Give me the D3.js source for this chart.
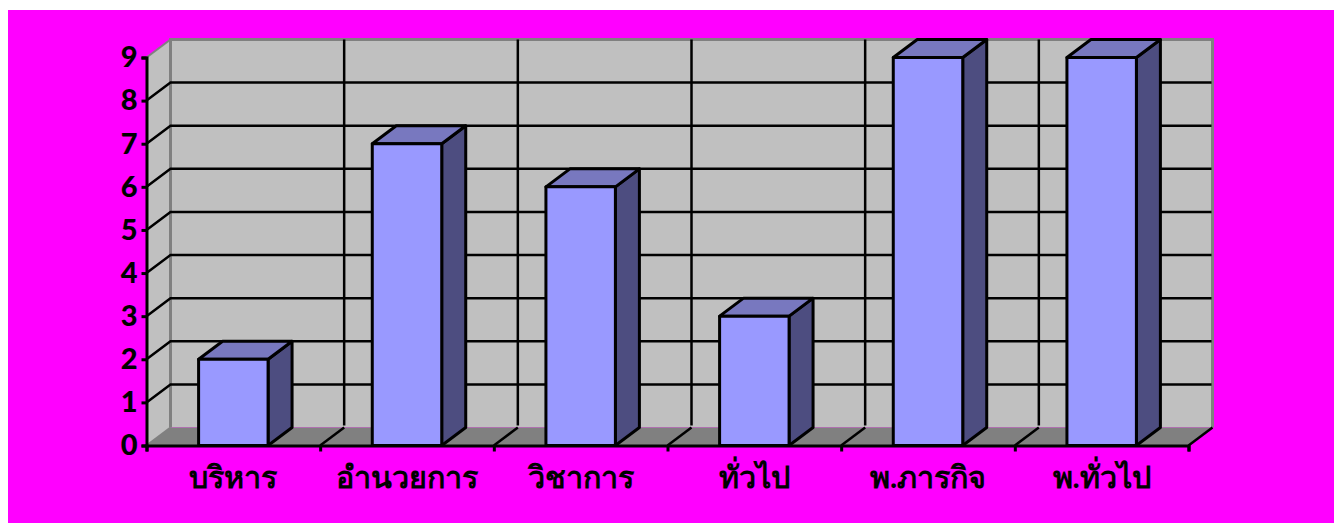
<!DOCTYPE html>
<html>
<head>
<meta charset="utf-8">
<script src="https://d3js.org/d3.v7.min.js"></script>
<style>
html, body { margin: 0; padding: 0; background: #fff; }
svg { display: block; }
</style>
</head>
<body>
<svg id="chart"></svg>
<script>
const categories = ["บริหาร", "อำนวยการ", "วิชาการ", "ทั่วไป", "พ.ภารกิจ", "พ.ทั่วไป"];
const values = [2, 7, 6, 3, 9, 9];
const yTicks = [0, 1, 2, 3, 4, 5, 6, 7, 8, 9];

const width = 1334, height = 523;
const fontFamily = "Lato, 'Noto Sans', 'Open Sans', 'DejaVu Sans', sans-serif";

// depth of the fake 3d box
const dx = 24, dy = -18;

const svg = d3.select("#chart").attr("width", width).attr("height", height);

svg.append("rect").attr("x", 8).attr("y", 10)
    .attr("width", width - 8).attr("height", height - 10).attr("fill", "#ff00ff");

const x = d3.scaleBand().domain(categories).range([146.5, 1188.5])
    .paddingInner(0.6).paddingOuter(0.3);
const y = d3.scaleLinear().domain([0, 9]).range([445.5, 57.5]);

const x0 = x.range()[0], x1 = x.range()[1];
const step = x.step();
const catEdges = categories.map((c, i) => x0 + i * step).concat([x1]);

const poly = pts => pts.map(p => p.join(",")).join(" ");

// side wall, back wall, floor
svg.append("polygon")
    .attr("points", poly([[x0, y(0)], [x0 + dx, y(0) + dy], [x0 + dx, y(9) + dy], [x0, y(9)]]))
    .attr("fill", "#c0c0c0");
svg.append("rect")
    .attr("x", x0 + dx).attr("y", y(9) + dy)
    .attr("width", x1 - x0).attr("height", y(0) - y(9))
    .attr("fill", "#c0c0c0");
svg.append("polygon")
    .attr("points", poly([[x0, y(0)], [x0 + dx, y(0) + dy], [x1 + dx, y(0) + dy], [x1, y(0)]]))
    .attr("fill", "#808080");

// grey wall edges
svg.append("polyline")
    .attr("points", poly([[x0 + dx, y(0) + dy], [x0 + dx, y(9) + dy], [x1 + dx, y(9) + dy], [x1 + dx, y(0) + dy]]))
    .attr("fill", "none").attr("stroke", "#808080").attr("stroke-width", 3);
svg.append("line")
    .attr("x1", x0).attr("y1", y(9)).attr("x2", x0 + dx).attr("y2", y(9) + dy)
    .attr("stroke", "#808080").attr("stroke-width", 2);
svg.append("line")
    .attr("x1", x0).attr("y1", y(0)).attr("x2", x0 + dx).attr("y2", y(0) + dy)
    .attr("stroke", "#808080").attr("stroke-width", 2);

// grid
const grid = svg.append("g").attr("stroke", "#000").attr("stroke-width", 2.5).attr("fill", "none");
yTicks.filter(t => t > 0 && t < 9).forEach(t => {
    grid.append("polyline")
        .attr("points", poly([[x0, y(t)], [x0 + dx, y(t) + dy], [x1 + dx - 1, y(t) + dy]]));
});
catEdges.slice(1, -1).forEach(e => {
    grid.append("line").attr("x1", e + dx).attr("x2", e + dx)
        .attr("y1", y(9) + dy).attr("y2", y(0) + dy - 2);
    grid.append("line").attr("x1", e).attr("x2", e + dx)
        .attr("y1", y(0)).attr("y2", y(0) + dy);
});
svg.append("line")
    .attr("x1", x1 + dx).attr("y1", y(0) + dy).attr("x2", x1).attr("y2", y(0))
    .attr("stroke", "#000").attr("stroke-width", 2.5);

// bars
const bars = svg.append("g").selectAll("g")
    .data(categories.map((c, i) => ({ c, v: values[i] })))
    .join("g")
    .attr("stroke", "#000").attr("stroke-width", 3).attr("stroke-linejoin", "round");

const bw = x.bandwidth();
bars.append("polygon")
    .attr("fill", "#4d4d80")
    .attr("points", d => {
        const r = x(d.c) + bw;
        return poly([[r, y(0)], [r + dx, y(0) + dy], [r + dx, y(d.v) + dy], [r, y(d.v)]]);
    });
bars.append("polygon")
    .attr("fill", "#7878bf")
    .attr("points", d => {
        const l = x(d.c), r = l + bw;
        return poly([[l, y(d.v)], [l + dx, y(d.v) + dy], [r + dx, y(d.v) + dy], [r, y(d.v)]]);
    });
bars.append("rect")
    .attr("fill", "#9999ff")
    .attr("x", d => x(d.c)).attr("y", d => y(d.v))
    .attr("width", bw).attr("height", d => y(0) - y(d.v));

// axes
const yAxis = svg.append("g")
    .attr("transform", `translate(${x0},0)`)
    .call(d3.axisLeft(y).tickValues(yTicks).tickFormat(d3.format("d")).tickSize(5).tickPadding(4));
const edgeScale = d3.scaleLinear().domain([0, categories.length]).range([x0, x1]);
const xEdges = svg.append("g")
    .attr("transform", `translate(0,${y(0)})`)
    .call(d3.axisBottom(edgeScale).ticks(categories.length).tickFormat("").tickSize(6));
const xAxis = svg.append("g")
    .attr("transform", `translate(0,${y(0)})`)
    .call(d3.axisBottom(x).tickSize(0).tickPadding(21));
xAxis.select(".domain").remove();

[yAxis, xEdges].forEach(a => {
    a.selectAll("path,line").attr("stroke", "#000").attr("stroke-width", 3);
});
yAxis.selectAll("text").attr("fill", "#000")
    .style("font-family", fontFamily).style("font-weight", "900").style("font-size", "29px");
xAxis.selectAll("text").attr("fill", "#000")
    .style("font-family", fontFamily).style("font-weight", "bold").style("font-size", "30.5px");
</script>
</body>
</html>
